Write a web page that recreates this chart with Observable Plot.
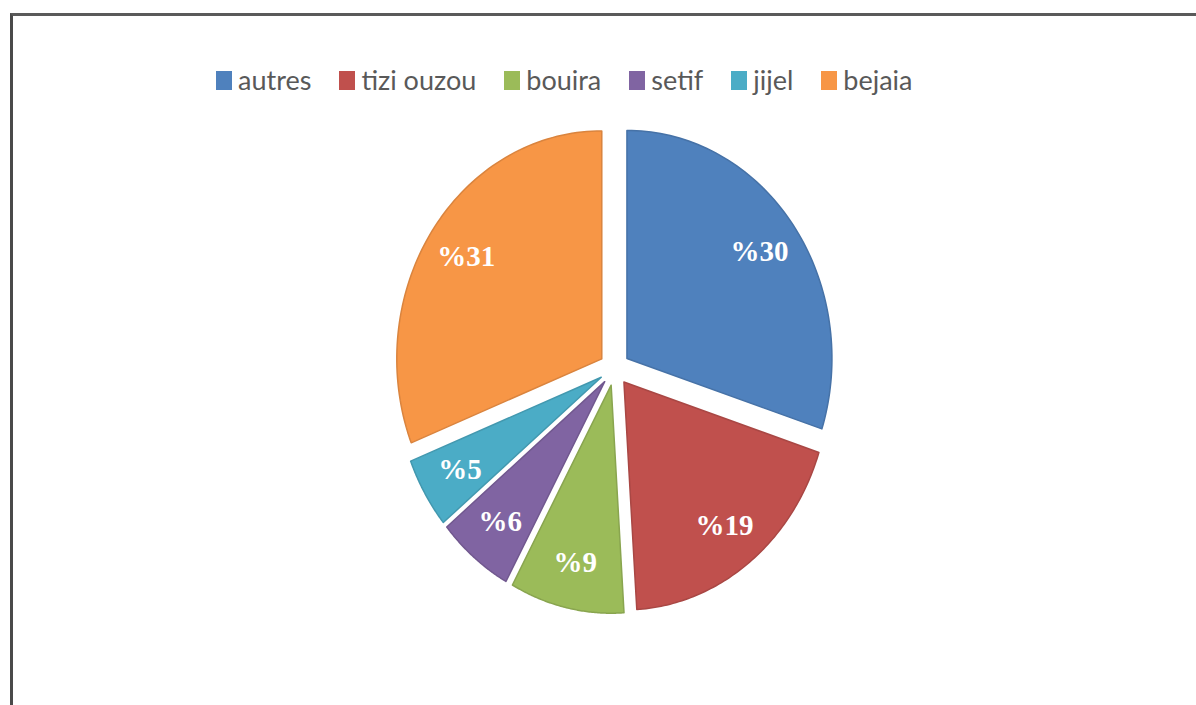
<!DOCTYPE html>
<html>
<head>
<meta charset="utf-8">
<script src="https://cdn.jsdelivr.net/npm/d3@7"></script>
<script src="https://cdn.jsdelivr.net/npm/@observablehq/plot@0.6"></script>
<style>
  html, body { margin: 0; padding: 0; background: #fff; overflow: hidden; }
  #wrap { position: relative; width: 1196px; height: 705px; overflow: hidden; }
  #frame { position: absolute; left: 10px; top: 13px; width: 1400px; height: 900px;
           border-top: 3px solid #5a5a5a; border-left: 3px solid #4a4a4a; box-sizing: border-box; }
  #legend { position: absolute; left: 216px; top: 62px; display: flex; align-items: center; gap: 28px;
            font-family: Lato, "Open Sans", sans-serif; font-size: 27px; color: #595959; line-height: 36px; }
  .item { display: flex; align-items: center; }
  .sw { display: inline-block; width: 16px; height: 19px; margin-right: 6px; }
  #chart { position: absolute; left: 0; top: 0; }
</style>
</head>
<body>
<div id="wrap">
  <div id="frame"></div>
  <div id="chart"></div>
  <div id="legend"></div>
</div>
<script>
const names  = ["autres", "tizi ouzou", "bouira", "setif", "jijel", "bejaia"];
const values = [30, 19, 9, 6, 5, 31];
const labels = ["%30", "%19", "%9", "%6", "%5", "%31"];
const colors = ["#4f81bd", "#c0504d", "#9bbb59", "#8064a2", "#4bacc6", "#f79646"];

const W = 1196, H = 705;
const cx = 614, cy = 368, rx = 205, ry = 228;
const explode = 0.075;
const labelR = 0.8;

const arcs = d3.pie().sort(null).value(d => d)(values);

const points = [];
const labelData = [];
arcs.forEach((a, i) => {
  const mid = (a.startAngle + a.endAngle) / 2;
  const ox = explode * Math.sin(mid), oy = -explode * Math.cos(mid);
  const fill = colors[i];
  const stroke = d3.color(colors[i]).darker(0.35).formatHex();
  points.push({name: names[i], x: ox, y: oy, fill, stroke});
  const n = 80;
  for (let k = 0; k <= n; k++) {
    const t = a.startAngle + (a.endAngle - a.startAngle) * k / n;
    points.push({name: names[i], x: ox + Math.sin(t), y: oy - Math.cos(t), fill, stroke});
  }
  points.push({name: names[i], x: ox, y: oy, fill, stroke});
  labelData.push({text: labels[i], x: ox + labelR * Math.sin(mid), y: oy - labelR * Math.cos(mid)});
});

const chart = Plot.plot({
  width: W, height: H, margin: 0,
  style: {background: "transparent", overflow: "visible"},
  x: {domain: [-cx / rx, (W - cx) / rx], range: [0, W], axis: null},
  y: {domain: [-cy / ry, (H - cy) / ry], range: [0, H], axis: null},
  color: {type: "identity"},
  marks: [
    Plot.line(points, {x: "x", y: "y", z: "name", fill: "fill", stroke: "stroke",
                       strokeWidth: 1.5, strokeLinejoin: "round", curve: "linear"}),
    Plot.text(labelData, {x: "x", y: "y", text: "text", fill: "white", fontSize: 29,
                          fontWeight: "bold", fontFamily: "Liberation Serif, serif"})
  ]
});
document.getElementById("chart").appendChild(chart);

const legend = document.getElementById("legend");
names.forEach((nm, i) => {
  const item = document.createElement("div");
  item.className = "item";
  const sw = document.createElement("span");
  sw.className = "sw";
  sw.style.background = colors[i];
  const tx = document.createElement("span");
  tx.textContent = nm;
  item.appendChild(sw);
  item.appendChild(tx);
  legend.appendChild(item);
});
</script>
</body>
</html>
